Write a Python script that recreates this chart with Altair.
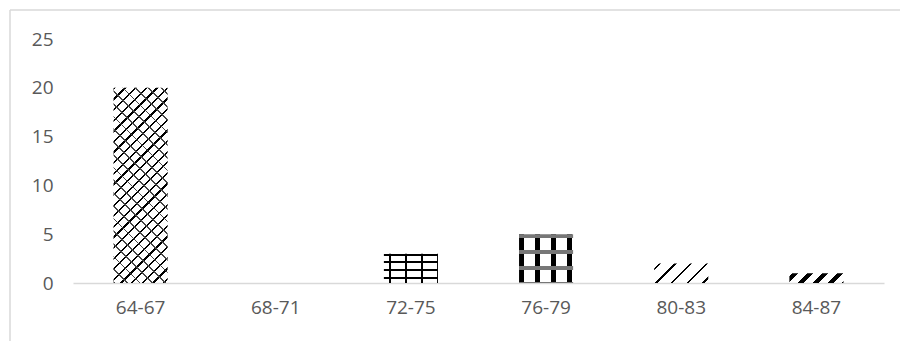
import math
import altair as alt
import pandas as pd

# ---- data ----
categories = ["64-67", "68-71", "72-75", "76-79", "80-83", "84-87"]
counts = [20, 0, 3, 5, 2, 1]
y_ticks = [0, 5, 10, 15, 20, 25]

df = pd.DataFrame({"range": categories, "count": counts})

# ---- layout ----
PW, PH = 811, 244
Y_MAX = 25
STEP = PW / 6
BAR_W = STEP * 0.4
CLEAR = "rgba(255,255,255,0)"


def stripes(kind, value, period, duty, color="#000000", phase=0.0):
    """Linear-gradient fill that imitates a hatch pattern on one bar."""
    w = BAR_W
    h = max(value * PH / Y_MAX, 1)
    if kind == "h":
        x1, y1, x2, y2, L = 0, 0, 0, 1, h
    elif kind == "v":
        x1, y1, x2, y2, L = 0, 0, 1, 0, w
    else:
        t = (1 / h + 1 / w) / (1 / h ** 2 + 1 / w ** 2)
        L = (w + h) / math.sqrt(2)
        if kind == "/":
            x1, y1, x2, y2 = 0, 0, t / h, t / w
        else:
            x1, y1, x2, y2 = 0, 1, t / h, 1 - t / w
    n = L / period
    stops = [{"offset": 0, "color": CLEAR}]
    k = 0
    while True:
        a = (k + phase) / n
        b = (k + phase + duty) / n
        if a >= 1:
            break
        a = max(a, 0.0)
        b = min(b, 1.0)
        if b > 0:
            stops += [
                {"offset": round(a, 5), "color": CLEAR},
                {"offset": round(a, 5), "color": color},
                {"offset": round(b, 5), "color": color},
                {"offset": round(b, 5), "color": CLEAR},
            ]
        k += 1
    stops.append({"offset": 1, "color": CLEAR})
    return {"gradient": "linear", "x1": x1, "y1": y1, "x2": x2, "y2": y2, "stops": stops}


val = dict(zip(categories, counts))
patterns = {
    "64-67": [("/", 7.5, 0.22, "#000000", 0.0), ("\\", 9, 0.14, "#444444", 0.0)],
    "72-75": [("h", 7.7, 0.26, "#000000", 0.0), ("v", 16.0, 0.12, "#000000", 0.3)],
    "76-79": [("v", 16, 0.32, "#000000", 0.0), ("h", 16, 0.22, "#777777", 0.0)],
    "80-83": [("/", 11, 0.16, "#000000", 0.3)],
    "84-87": [("/", 10.5, 0.4, "#000000", 0.2)],
}

x_enc = alt.X(
    "range:N",
    sort=categories,
    scale=alt.Scale(domain=categories, paddingInner=0.6, paddingOuter=0.3),
    axis=alt.Axis(
        title=None, labelAngle=0, ticks=False, domainColor="#D9D9D9", domainWidth=1.5,
        labelColor="#595959", labelFontSize=19, labelFont="Open Sans", labelPadding=15,
        grid=False,
    ),
)
y_enc = alt.Y(
    "count:Q",
    scale=alt.Scale(domain=[0, Y_MAX], nice=False),
    axis=alt.Axis(
        title=None, values=y_ticks, ticks=False, domain=False, grid=False,
        labelColor="#595959", labelFontSize=19, labelFont="Open Sans", labelPadding=20,
    ),
)

layers = []
for cat in categories:
    for (kind, period, duty, color, phase) in patterns.get(cat, []):
        grad = stripes(kind, val[cat], period, duty, color, phase)
        layers.append(
            alt.Chart(df)
            .transform_filter(alt.datum.range == cat)
            .mark_bar(fill=grad, strokeWidth=0)
            .encode(x=x_enc, y=y_enc)
        )

frame_df = pd.DataFrame({"k": [0]})
frame_v = alt.Chart(frame_df).mark_rule(color="#D9D9D9", strokeWidth=1.5).encode(
    x=alt.value(-63), y=alt.value(-29), y2=alt.value(PH + 80)
)
frame_h = alt.Chart(frame_df).mark_rule(color="#D9D9D9", strokeWidth=1.5).encode(
    x=alt.value(-63), x2=alt.value(PW + 60), y=alt.value(-29)
)

chart = (
    alt.layer(*layers, frame_v, frame_h)
    .properties(
        width=PW, height=PH,
        padding={"left": 73, "top": 39, "right": 16, "bottom": 58},
        autosize=alt.AutoSizeParams(type="none"),
        background="white",
    )
    .configure_view(stroke=None)
)

chart.save("out.html", embed_options={"renderer": "svg", "actions": False})
